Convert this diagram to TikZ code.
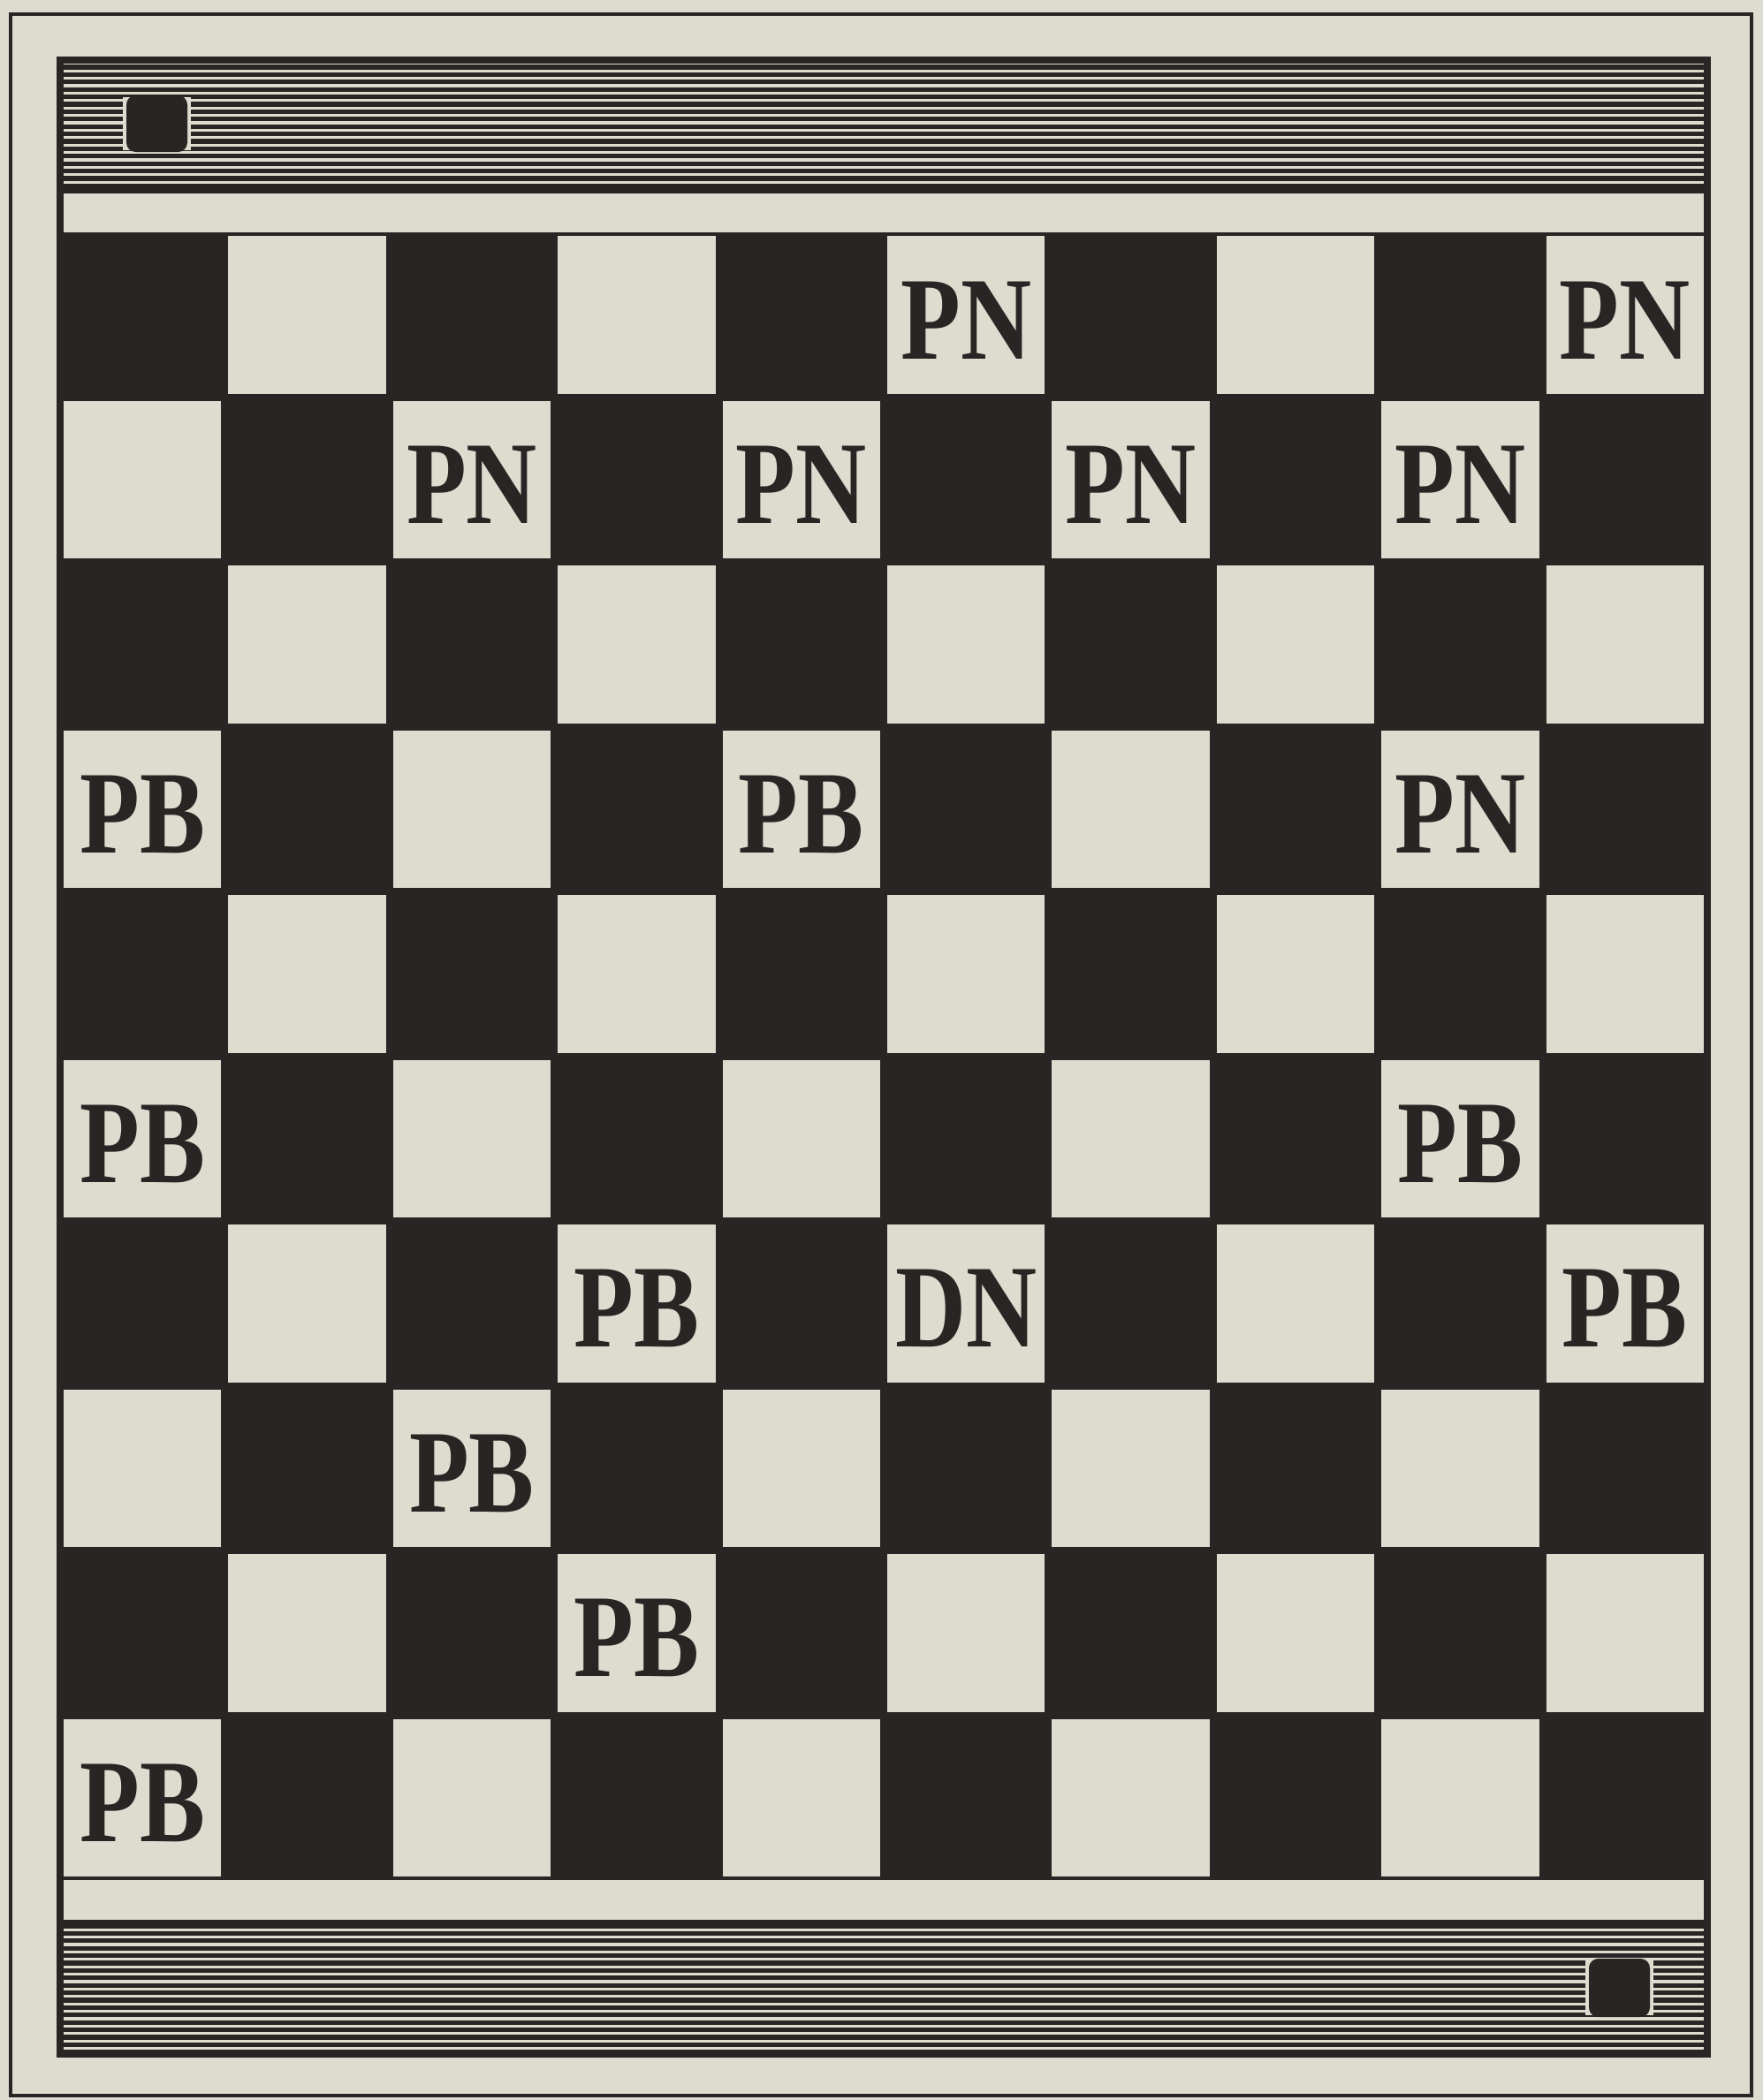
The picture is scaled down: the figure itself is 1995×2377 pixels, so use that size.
\documentclass[tikz,border=0pt]{standalone}
\usepackage{fontspec}
\newfontfamily\boardfont[FakeStretch=0.83]{Liberation Serif}
\definecolor{paper}{RGB}{222,219,207}
\definecolor{ink}{RGB}{40,38,36}

\begin{document}
\begin{tikzpicture}[
    x=0.01cm, y=-0.01cm,
    outerframe/.style={draw=ink, line width=1.1pt},
    innerframe/.style={draw=ink, line width=2.2pt},
    hatch/.style={draw=ink, line width=1.45pt},
    marker/.style={fill=ink, rounded corners=3pt},
    piece/.style={font=\boardfont\bfseries\fontsize{38}{38}\selectfont, text=ink, inner sep=0pt}
]
\useasboundingbox[fill=paper] (0,0) rectangle (1995,2377);

% Frames
\draw[outerframe] (12,16) rectangle (1982,2372);

% Top band
\foreach \k in {0,...,16}
    \draw[hatch] (70,{76+\k*8.4}) -- (1932,{76+\k*8.4});
\draw[innerframe] (68,215) -- (1932,215);
\fill[paper] (139,110) rectangle (216,170);
\fill[marker] (143,108) rectangle (212,172);

% Bottom band
\foreach \k in {0,...,17}
    \draw[hatch] (70,{2180+\k*8.4}) -- (1932,{2180+\k*8.4});
\draw[innerframe] (68,2177) -- (1932,2177);
\fill[paper] (1794,2219) rectangle (1871,2281);
\fill[marker] (1798,2217) rectangle (1867,2283);

% Board
\fill[ink] (68,263) rectangle (1932,2128);
\foreach \r in {0,...,9}
    \foreach \c in {0,...,9} {
        \ifodd\numexpr\r+\c\relax
            \fill[paper] ({68+\c*186.4+4},{263+\r*186.5+4}) rectangle ++(178.4,178.5);
        \fi
    }

\draw[innerframe] (68,68) rectangle (1932,2325);

% Pieces
\foreach \r/\c/\t in {0/5/PN, 0/9/PN, 1/2/PN, 1/4/PN, 1/6/PN, 1/8/PN,
                      3/0/PB, 3/4/PB, 3/8/PN, 5/0/PB, 5/8/PB,
                      6/3/PB, 6/5/DN, 6/9/PB, 7/2/PB, 8/3/PB, 9/0/PB}
    \node[piece] (p\r\c) at ({68+(\c+0.5)*186.4},{263+(\r+0.5)*186.5+6}) {\t};

\end{tikzpicture}
\end{document}
